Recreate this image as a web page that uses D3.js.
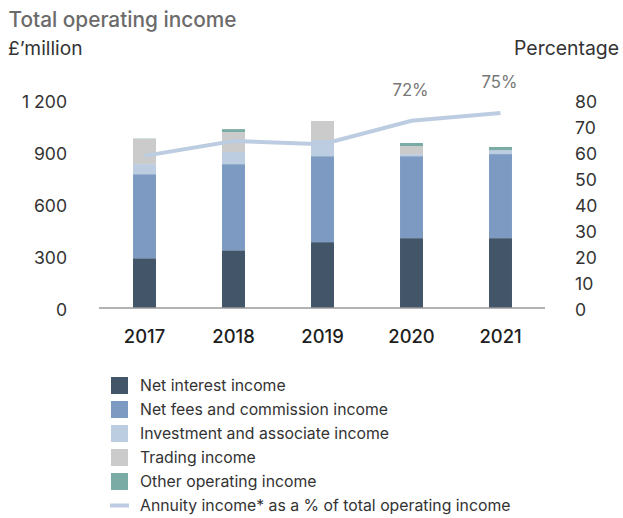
<!DOCTYPE html>
<html>
<head>
<meta charset="utf-8">
<script src="https://cdn.jsdelivr.net/npm/d3@7/dist/d3.min.js"></script>
<style>
  html, body { margin: 0; padding: 0; background: #fff; }
  svg { display: block; font-family: Inter, "Noto Sans", sans-serif; }
</style>
</head>
<body>
<svg id="chart" width="623" height="518"></svg>
<script>
// Financial years
const years = ["2017", "2018", "2019", "2020", "2021"];

// Income components, £'million
const netInterest   = [287, 333, 380, 403, 403];
const netFees       = [485, 497, 496, 473, 485];
const investment    = [58, 70, 93, 12, 23];
const trading       = [145, 115, 110, 46, 0];
const otherIncome   = [2, 17, 0, 18, 18];

// Annuity income as a % of total operating income
const annuityPct    = [58.5, 64.2, 63, 72, 75];
const labelledYears = ["2020", "2021"];

// Axis ticks
const leftTicks  = [0, 300, 600, 900, 1200];
const rightTicks = [0, 10, 20, 30, 40, 50, 60, 70, 80];

const seriesNames = [
  "Net interest income",
  "Net fees and commission income",
  "Investment and associate income",
  "Trading income",
  "Other operating income"
];
const seriesColors = ["#435568", "#7d9bc2", "#bdcde1", "#cbcbcb", "#7aaba5"];
const lineColor = "#bdcde1";
const lineName = "Annuity income* as a % of total operating income";

const svg = d3.select("#chart");

const x = d3.scaleBand()
  .domain(years)
  .range([100, 545])
  .paddingInner(0.742)
  .paddingOuter(0.371);

const yLeft = d3.scaleLinear().domain([0, 1200]).range([308, 100]);
const yRight = d3.scaleLinear().domain([0, 80]).range([308, 100]);

// Titles
svg.append("text")
  .attr("x", 8.5).attr("y", 26.5)
  .attr("font-size", 20.8)
  .attr("font-weight", 500)
  .attr("fill", "#6b6b6b")
  .text("Total operating income");

svg.append("text")
  .attr("x", 8).attr("y", 55)
  .attr("font-size", 19.2)
  .attr("fill", "#333")
  .text("£’million");

svg.append("text")
  .attr("x", 619).attr("y", 55)
  .attr("text-anchor", "end")
  .attr("font-size", 19.4)
  .attr("fill", "#333")
  .text("Percentage");

// Stacked bars
const rows = years.map((yr, i) => ({
  year: yr,
  s0: netInterest[i], s1: netFees[i], s2: investment[i], s3: trading[i], s4: otherIncome[i]
}));
const stack = d3.stack().keys(["s0", "s1", "s2", "s3", "s4"]);
const layers = stack(rows);

svg.append("g")
  .selectAll("g")
  .data(layers)
  .join("g")
  .attr("fill", (d, i) => seriesColors[i])
  .selectAll("rect")
  .data(d => d)
  .join("rect")
  .attr("x", d => x(d.data.year))
  .attr("width", x.bandwidth())
  .attr("y", d => yLeft(d[1]))
  .attr("height", d => yLeft(d[0]) - yLeft(d[1]));

// Baseline
svg.append("line")
  .attr("x1", 99).attr("x2", 545)
  .attr("y1", yLeft(0)).attr("y2", yLeft(0))
  .attr("stroke", "#9a9a9a")
  .attr("stroke-width", 1.5);

// Left axis
const fmt = d3.formatLocale({ decimal: ".", thousands: " ", grouping: [3], currency: ["£", ""] }).format(",d");
const leftAxis = svg.append("g")
  .attr("transform", "translate(67,0)")
  .call(d3.axisLeft(yLeft).tickValues(leftTicks).tickFormat(fmt).tickSize(0).tickPadding(0));
leftAxis.select(".domain").remove();
leftAxis.selectAll("text")
  .attr("font-family", "Inter, 'Noto Sans', sans-serif")
  .attr("font-size", 17.6)
  .attr("fill", "#333")
  .attr("dy", "0.45em");

// Right axis
const rightAxis = svg.append("g")
  .attr("transform", "translate(575,0)")
  .call(d3.axisRight(yRight).tickValues(rightTicks).tickSize(0).tickPadding(0));
rightAxis.select(".domain").remove();
rightAxis.selectAll("text")
  .attr("font-family", "Inter, 'Noto Sans', sans-serif")
  .attr("font-size", 17.6)
  .attr("fill", "#333")
  .attr("dy", "0.45em");

// Year labels
const bottomAxis = svg.append("g")
  .attr("transform", "translate(0,308)")
  .call(d3.axisBottom(x).tickSize(0).tickPadding(0));
bottomAxis.select(".domain").remove();
bottomAxis.selectAll("text")
  .attr("font-family", "Inter, 'Noto Sans', sans-serif")
  .attr("font-size", 18.4)
  .attr("font-weight", 500)
  .attr("fill", "#1e1e1e")
  .attr("dy", "1.9em");

// Annuity income line
const line = d3.line()
  .x((d, i) => x(years[i]) + x.bandwidth() / 2)
  .y(d => yRight(d));

svg.append("path")
  .datum(annuityPct)
  .attr("d", line)
  .attr("fill", "none")
  .attr("stroke", lineColor)
  .attr("stroke-width", 4);

// Percentage labels
svg.append("g")
  .selectAll("text")
  .data(years.map((yr, i) => ({ yr, v: annuityPct[i] })).filter(d => labelledYears.includes(d.yr)))
  .join("text")
  .attr("x", d => x(d.yr) + x.bandwidth() / 2 - 1)
  .attr("y", d => yRight(d.v) - 25)
  .attr("text-anchor", "middle")
  .attr("font-size", 16.8)
  .attr("fill", "#777")
  .text(d => d3.format("d")(d.v) + "%");

// Legend
const legend = svg.append("g");
const legendItems = seriesNames.map((n, i) => ({ name: n, color: seriesColors[i], type: "box" }))
  .concat([{ name: lineName, color: lineColor, type: "line" }]);

legendItems.forEach((d, i) => {
  const cy = 385.5 + i * 24;
  if (d.type === "box") {
    legend.append("rect")
      .attr("x", 111).attr("y", cy - 8.5)
      .attr("width", 17).attr("height", 17)
      .attr("fill", d.color);
  } else {
    legend.append("line")
      .attr("x1", 110).attr("x2", 129)
      .attr("y1", cy).attr("y2", cy)
      .attr("stroke", d.color)
      .attr("stroke-width", 4);
  }
  legend.append("text")
    .attr("x", 140).attr("y", cy)
    .attr("dy", "0.36em")
    .attr("font-size", 15.8)
    .attr("fill", "#333")
    .text(d.name);
});
</script>
</body>
</html>
